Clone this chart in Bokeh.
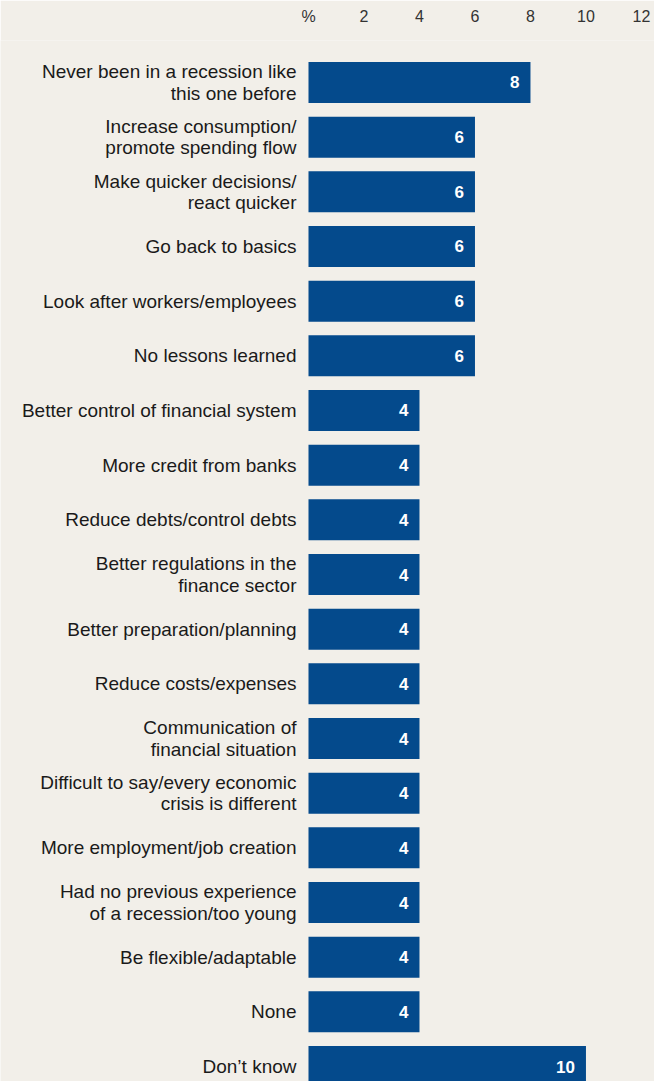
import numpy as np
from bokeh.plotting import figure
from bokeh.models import Range1d, FixedTicker, LinearAxis, ColumnDataSource
from bokeh.core.properties import value
from bokeh.embed import file_html
from bokeh.resources import INLINE

categories = [
    "Never been in a recession like\nthis one before",
    "Increase consumption/\npromote spending flow",
    "Make quicker decisions/\nreact quicker",
    "Go back to basics",
    "Look after workers/employees",
    "No lessons learned",
    "Better control of financial system",
    "More credit from banks",
    "Reduce debts/control debts",
    "Better regulations in the\nfinance sector",
    "Better preparation/planning",
    "Reduce costs/expenses",
    "Communication of\nfinancial situation",
    "Difficult to say/every economic\ncrisis is different",
    "More employment/job creation",
    "Had no previous experience\nof a recession/too young",
    "Be flexible/adaptable",
    "None",
    "Don\u2019t know",
]
values = [8, 6, 6, 6, 6, 6, 4, 4, 4, 4, 4, 4, 4, 4, 4, 4, 4, 4, 10]
tick_values = [0, 2, 4, 6, 8, 10, 12]
tick_labels = {0: "%", 2: "2", 4: "4", 6: "6", 8: "8", 10: "10", 12: "12"}

BG = "#f2efe9"
BAR = "#044a8c"
FONT = "Liberation Sans"

n = len(categories)
pos = np.arange(n)
src = ColumnDataSource(dict(y=pos, v=values, cat=categories,
                            lab=[str(v) for v in values]))

p = figure(width=654, height=1081, output_backend="svg", toolbar_location=None,
           x_range=Range1d(-11.1, 12.47), y_range=Range1d(n - 1 + 0.274, -0.768),
           x_axis_location=None, y_axis_location=None,
           min_border_left=0, min_border_right=0, min_border_bottom=0,
           min_border_top=40)
p.background_fill_color = BG
p.border_fill_color = BG
p.outline_line_color = None
p.grid.visible = False

ax = LinearAxis(ticker=FixedTicker(ticks=tick_values),
                major_label_overrides=tick_labels)
ax.axis_line_color = None
ax.major_tick_line_color = None
ax.minor_tick_line_color = None
ax.major_label_text_font = FONT
ax.major_label_text_font_size = "16px"
ax.major_label_text_color = "#333333"
ax.major_label_standoff = 10
p.add_layout(ax, "above")

p.hbar(y="y", left=0, right="v", height=0.75, source=src,
       fill_color=BAR, line_color=None)

p.text(x="v", y="y", text="lab", source=src, x_offset=-11,
       text_align="right", text_baseline="middle",
       text_font=value(FONT), text_font_style="bold",
       text_font_size="17px", text_color="white")

p.text(x=0, y="y", text="cat", source=src, x_offset=-12,
       text_align="right", text_baseline="middle",
       text_font=value(FONT), text_font_size="19px",
       text_color="#1a1a1a", text_line_height=1.02)

open("out.html", "w").write(file_html(p, INLINE))
